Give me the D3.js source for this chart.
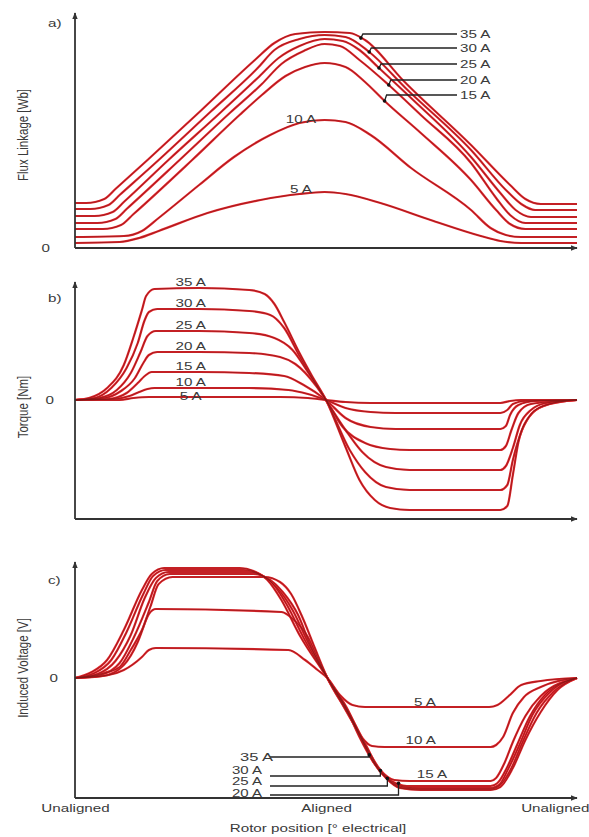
<!DOCTYPE html>
<html>
<head>
<meta charset="utf-8">
<script src="https://cdn.jsdelivr.net/npm/d3@7"></script>
<style>
  body { margin: 0; background: #fff; }
  svg text { font-family: "Liberation Sans", Arial, sans-serif; fill: #3a3a3a; }
</style>
</head>
<body>
<div id="chart"></div>
<script>
// phase currents, same order as the series lists below
const currents = [35, 30, 25, 20, 15, 10, 5];

// a) flux linkage, [rotor position (deg el.), flux]
const flux35 = [[0,45],[8,45],[21,49],[29,59],[52,88],[90,137],[129,188],[143,205],[158,214],[179,216],[197,215],[208,208],[235,168],[284,103],[312,63],[323,49],[334,44],[360,44]];
const flux30 = [[0,39],[11,39],[24,43],[32,53],[60,88],[97,136],[131,180],[143,198],[161,209],[179,213],[194,211],[211,196],[237,160],[284,98],[309,58],[320,44],[330,38],[360,38]];
const flux25 = [[0,32],[14,32],[27,36],[35,46],[67,88],[104,135],[131,170],[146,190],[161,202],[179,209],[192,207],[204,198],[218,180],[241,150],[284,91],[305,55],[316,38],[327,31],[360,31]];
const flux20 = [[0,25],[16,25],[29,29],[37,39],[75,88],[111,135],[134,164],[148,184],[164,197],[179,204],[190,202],[204,188],[225,163],[248,133],[284,85],[302,50],[312,33],[323,25],[360,25]];
const flux15 = [[0,19],[20,19],[33,23],[42,34],[84,88],[118,133],[134,153],[151,172],[165,181],[179,185],[194,181],[208,166],[222,147],[248,115],[284,68],[302,38],[312,24],[323,19],[360,19]];
const flux10 = [[0,11],[35,12],[48,17],[60,30],[89,63],[114,91],[140,113],[161,125],[179,128],[194,126],[212,113],[241,80],[284,38],[298,20],[309,13],[320,11],[360,11]];
const flux5  = [[0,5],[32,6],[46,10],[60,17],[95,35],[133,48],[161,54],[179,56],[194,54],[219,45],[255,28],[291,12],[305,7],[320,5],[360,5]];

// b) torque
const torque35 = [[0,0],[10,2],[23,12],[35,35],[42,63],[48,90],[51,104],[57,111],[89,112],[125,110],[136,106],[143,96],[150,78],[161,47],[170,24],[180,0],[194,-47],[204,-80],[215,-100],[226,-108],[240,-110],[305,-110],[310,-106],[314,-75],[318,-42],[325,-18],[336,-6],[360,0]];
const torque30 = [[0,0],[14,2],[26,12],[37,32],[45,57],[50,80],[53,88],[59,91],[89,91],[125,89],[140,85],[150,72],[161,44],[170,22],[180,0],[197,-50],[208,-72],[223,-87],[240,-90],[305,-90],[310,-85],[314,-60],[320,-32],[328,-13],[340,-4],[360,0]];
const torque25 = [[0,0],[17,2],[30,10],[40,27],[47,48],[52,64],[58,69],[89,69],[125,67],[143,62],[156,50],[167,28],[180,0],[194,-30],[206,-52],[223,-67],[240,-70],[305,-70],[309,-66],[314,-48],[319,-25],[327,-10],[338,-3],[360,0]];
const torque20 = [[0,0],[21,2],[33,9],[43,22],[49,37],[53,45],[59,48],[89,48],[125,47],[147,43],[158,36],[173,14],[180,0],[192,-27],[208,-43],[226,-49],[240,-50],[305,-50],[309,-46],[313,-30],[318,-13],[327,-4],[360,0]];
const torque15 = [[0,0],[24,1],[37,7],[45,17],[50,24],[55,28],[89,28],[125,27],[150,24],[164,15],[180,0],[194,-18],[212,-27],[230,-29],[305,-29],[309,-26],[312,-15],[318,-5],[330,-1],[360,0]];
const torque10 = [[0,0],[28,1],[39,4],[46,8],[52,11],[57,12],[125,12],[153,10],[167,6],[180,0],[194,-8],[212,-12],[230,-13],[305,-13],[310,-10],[314,-4],[323,-1],[360,0]];
const torque5  = [[0,0],[32,0],[42,2],[53,3],[147,3],[167,2],[180,0],[194,-2],[212,-3],[305,-3],[312,-1],[320,0],[360,0]];

// c) induced voltage
const volt35 = [[0,0],[12,6],[23,18],[35,48],[48,88],[55,104],[64,110],[118,110],[128,107],[138,98],[148,78],[161,43],[181,0],[194,-29],[204,-59],[213,-82],[223,-100],[233,-110],[248,-112],[298,-112],[305,-109],[314,-90],[323,-62],[334,-34],[346,-12],[360,0]];
const volt30 = [[0,0],[14,5],[26,18],[37,46],[49,84],[56,102],[65,108],[121,108],[132,104],[142,94],[152,73],[164,40],[181,0],[195,-30],[206,-62],[214,-84],[224,-101],[235,-110],[248,-111],[298,-111],[304,-108],[313,-90],[321,-64],[331,-35],[343,-14],[360,0]];
const volt25 = [[0,0],[16,4],[29,17],[40,43],[50,80],[58,100],[67,106],[125,106],[136,101],[145,90],[156,68],[167,36],[181,0],[195,-32],[207,-65],[215,-86],[225,-102],[236,-109],[248,-110],[298,-110],[304,-107],[311,-90],[319,-66],[328,-37],[340,-15],[360,0]];
const volt20 = [[0,0],[18,3],[32,15],[42,40],[53,76],[59,97],[68,104],[128,104],[140,98],[149,86],[160,63],[169,32],[181,0],[196,-34],[209,-68],[217,-89],[227,-103],[238,-108],[298,-108],[303,-105],[310,-89],[317,-67],[326,-39],[337,-17],[360,0]];
const volt15 = [[0,0],[20,2],[35,13],[45,36],[54,71],[60,94],[70,101],[136,101],[147,96],[155,84],[163,61],[172,30],[181,0],[196,-36],[210,-72],[219,-92],[229,-102],[240,-103],[298,-103],[302,-100],[308,-85],[314,-64],[323,-38],[334,-18],[360,0]];
const volt10 = [[0,0],[21,5],[32,11],[40,28],[48,48],[53,64],[58,69],[148,66],[157,58],[167,41],[174,20],[181,0],[190,-22],[199,-44],[206,-60],[213,-68],[222,-69],[298,-69],[302,-67],[307,-59],[314,-35],[322,-19],[334,-9],[360,0]];
const volt5  = [[0,0],[24,3],[35,8],[48,21],[53,28],[58,30],[153,28],[165,18],[174,8],[181,0],[190,-17],[199,-27],[208,-29],[297,-29],[303,-27],[311,-18],[320,-7],[334,-3],[360,0]];

const fluxSeries = [flux35, flux30, flux25, flux20, flux15, flux10, flux5];
const torqueSeries = [torque35, torque30, torque25, torque20, torque15, torque10, torque5];
const voltSeries = [volt35, volt30, volt25, volt20, volt15, volt10, volt5];

const xTicks = [0, 180, 360];
const xTickNames = ["Unaligned", "Aligned", "Unaligned"];

// ---------------------------------------------------------------
const width = 589, height = 837;
const svg = d3.select("#chart").append("svg")
  .attr("width", width).attr("height", height)
  .attr("viewBox", `0 0 ${width} ${height}`);

svg.append("defs").append("marker")
  .attr("id", "arrow").attr("viewBox", "0 0 10 10")
  .attr("refX", 9).attr("refY", 5)
  .attr("markerWidth", 7).attr("markerHeight", 7)
  .attr("markerUnits", "userSpaceOnUse").attr("orient", "auto")
  .append("path").attr("d", "M0,1L10,5L0,9Z").attr("fill", "#333");

const x = d3.scaleLinear().domain([0, 360]).range([75, 577]);

// the scan is stretched sideways, so text is widened to match
const widen = (sel, k = 1.38) => sel.each(function () {
  const L = this.getComputedTextLength();
  d3.select(this).attr("textLength", L * k).attr("lengthAdjust", "spacingAndGlyphs");
});

const valueAt = (s, deg) => {
  const i = d3.bisector(d => d[0]).left(s, deg);
  const a = s[Math.max(i - 1, 0)], b = s[Math.min(i, s.length - 1)];
  if (a === b) return a[1];
  return a[1] + (deg - a[0]) / (b[0] - a[0]) * (b[1] - a[1]);
};

const panels = [
  { series: fluxSeries, y: d3.scaleLinear().domain([0, 235]).range([248, 13]),
    tag: "a)", tagY: 27, title: "Flux Linkage [Wb]", titleY: 135, zeroPad: 25 },
  { series: torqueSeries, y: d3.scaleLinear().domain([-119, 118]).range([519, 282]),
    tag: "b)", tagY: 302, title: "Torque [Nm]", titleY: 407, zeroPad: 21 },
  { series: voltSeries, y: d3.scaleLinear().domain([-120, 116]).range([798, 562]),
    tag: "c)", tagY: 584, title: "Induced Voltage [V]", titleY: 668, zeroPad: 17 }
];

panels.forEach(p => {
  const g = svg.append("g");
  const [yBot, yTop] = p.y.range();

  const line = d3.line()
    .x(d => x(d[0])).y(d => p.y(d[1]))
    .curve(d3.curveMonotoneX);

  // curves: red with a darker core like the scan
  const curves = g.append("g").attr("fill", "none");
  curves.selectAll("path.c").data(p.series).join("path")
    .attr("class", "c").attr("d", line)
    .attr("stroke", "#e2262c").attr("stroke-width", 2.2);
  curves.selectAll("path.k").data(p.series).join("path")
    .attr("class", "k").attr("d", line)
    .attr("stroke", "#7d1414").attr("stroke-width", 0.7).attr("stroke-opacity", 0.85);

  // axes with arrows
  g.append("line")
    .attr("x1", x(0)).attr("y1", yBot).attr("x2", x(0)).attr("y2", yTop)
    .attr("stroke", "#333").attr("stroke-width", 1.8).attr("marker-end", "url(#arrow)");
  g.append("line")
    .attr("x1", x(0)).attr("y1", yBot).attr("x2", x(360)).attr("y2", yBot)
    .attr("stroke", "#333").attr("stroke-width", 1.8).attr("marker-end", "url(#arrow)");

  const yAxis = g.append("g")
    .attr("transform", `translate(${x(0)},0)`)
    .call(d3.axisLeft(p.y).tickValues([0]).tickSize(0).tickPadding(p.zeroPad))
    .call(a => a.select(".domain").remove());
  yAxis.selectAll("text").attr("font-size", 11).attr("fill", "#3a3a3a")
    .attr("font-family", "Liberation Sans, Arial, sans-serif").call(widen);

  g.append("text").attr("x", 48).attr("y", p.tagY)
    .attr("font-size", 11).text(p.tag).call(widen);

  g.append("text")
    .attr("transform", `translate(24,${p.titleY}) scale(1.3,1) rotate(-90)`)
    .attr("text-anchor", "middle").attr("dominant-baseline", "middle")
    .attr("font-size", 11.5).text(p.title);
});

const [pF, pT, pV] = panels;

// a) labels
const topLeaders = [
  { i: 0, deg: 205, ly: 34 }, { i: 1, deg: 211, ly: 48 }, { i: 2, deg: 218, ly: 64 },
  { i: 3, deg: 225, ly: 80 }, { i: 4, deg: 222, ly: 95 }
];
topLeaders.forEach(d => {
  const px = x(d.deg), py = pF.y(valueAt(fluxSeries[d.i], d.deg));
  svg.append("path").attr("d", `M${px},${py}L${px + 2},${d.ly}H457`)
    .attr("fill", "none").attr("stroke", "#222").attr("stroke-width", 1.3);
  svg.append("circle").attr("cx", px).attr("cy", py).attr("r", 1.8).attr("fill", "#111");
  svg.append("text").attr("x", 460).attr("y", d.ly + 4).attr("font-size", 11)
    .text(currents[d.i] + " A").call(widen);
});
[{ i: 5, dy: 0 }, { i: 6, dy: -1 }].forEach(d => {
  svg.append("text").attr("x", x(162)).attr("y", pF.y(valueAt(fluxSeries[d.i], 162)) + d.dy)
    .attr("text-anchor", "middle").attr("font-size", 11)
    .text(currents[d.i] + " A").call(widen);
});

// b) labels on the plateaus
torqueSeries.forEach((s, i) => {
  const dy = currents[i] === 5 ? 3 : -2;
  svg.append("text").attr("x", x(83)).attr("y", pT.y(valueAt(s, 83)) + dy)
    .attr("text-anchor", "middle").attr("font-size", 11)
    .text(currents[i] + " A").call(widen);
});

// c) labels
[{ i: 6, deg: 251, dy: -1 }, { i: 5, deg: 248, dy: -3 }, { i: 4, deg: 256, dy: -3 }].forEach(d => {
  svg.append("text").attr("x", x(d.deg)).attr("y", pV.y(valueAt(voltSeries[d.i], d.deg)) + d.dy)
    .attr("text-anchor", "middle").attr("font-size", 11)
    .text(currents[d.i] + " A").call(widen);
});
const botLeaders = [
  { i: 0, deg: 211, ly: 757, ty: 761, tx: 240 }, { i: 1, deg: 219, ly: 776, ty: 774, tx: 232 },
  { i: 2, deg: 224, ly: 786, ty: 784.5, tx: 232 }, { i: 3, deg: 232, ly: 795, ty: 797, tx: 232 }
];
botLeaders.forEach(d => {
  const px = x(d.deg), py = pV.y(valueAt(voltSeries[d.i], d.deg));
  svg.append("path").attr("d", `M270,${d.ly}H${px}V${py}`)
    .attr("fill", "none").attr("stroke", "#222").attr("stroke-width", 1.3);
  svg.append("circle").attr("cx", px).attr("cy", py).attr("r", 1.8).attr("fill", "#111");
  svg.append("text").attr("x", d.tx).attr("y", d.ty).attr("font-size", d.i === 0 ? 11 : 10)
    .text(currents[d.i] + " A").call(s => widen(s, 1.5));
});

// shared x axis labels
const xAxis = svg.append("g")
  .attr("transform", `translate(0,${pV.y.range()[0]})`)
  .call(d3.axisBottom(x).tickValues(xTicks).tickFormat((d, i) => xTickNames[i]).tickSize(0).tickPadding(6))
  .call(a => a.select(".domain").remove());
xAxis.selectAll("text").attr("font-size", 11).attr("fill", "#3a3a3a")
  .attr("font-family", "Liberation Sans, Arial, sans-serif");
xAxis.selectAll("text").filter((d, i) => i === 2).attr("text-anchor", "end").attr("x", 12);
xAxis.selectAll("text").call(widen);

svg.append("text").attr("x", 318).attr("y", 832)
  .attr("text-anchor", "middle").attr("font-size", 11)
  .text("Rotor position [° electrical]").call(widen);
</script>
</body>
</html>
